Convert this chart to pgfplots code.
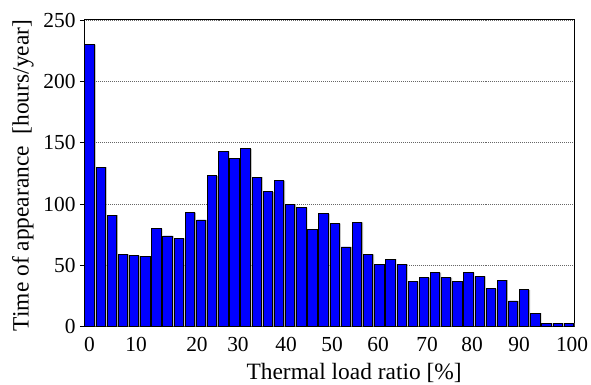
\documentclass[border=0pt]{standalone}
\usepackage{pgfplots}
\pgfplotsset{compat=1.18}
\usepackage{fontspec}
\setmainfont{Liberation Serif}
\pgfplotstableread{
x y
0 230
1 130
2 91
3 59
4 58
5 57
6 80
7 74
8 72
9 93
10 87
11 123
12 143
13 137
14 145
15 122
16 110
17 119
18 100
19 97
20 79
21 92
22 84
23 65
24 85
25 59
26 51
27 55
28 51
29 37
30 40
31 44
32 40
33 37
34 44
35 41
36 31
37 38
38 21
39 30
40 11
41 3
42 3
43 3
}\datatable
\begin{document}
\begin{tikzpicture}
\begin{axis}[
  scale only axis,
  width=490.3bp, height=306.7bp,
  xmin=-0.5, xmax=43.5,
  ymin=0, ymax=250,
  ytick={0,50,100,150,200,250},
  xtick={0,4.17,9.64,13.32,17.63,21.76,25.89,30.29,34.33,38.55,43.3},
  xticklabels={0,10,20,30,40,50,60,70,80,90,100},
  x tick style={draw=none},
  ytick style={black, line width=0.6pt},
  ytick pos=left,
  tick align=outside,
  major tick length=4bp,
  ymajorgrids,
  grid style={gray!80!black, line width=0.5pt, dash pattern=on 1pt off 1pt},
  axis line style={black, line width=1pt},
  /pgf/number format/assume math mode=true,
  tick label style={font=\fontsize{21.5}{23}\selectfont},
  label style={font=\fontsize{23.5}{25}\selectfont},
  xlabel={Thermal load ratio [\%]},
  ylabel={Time of appearance\ \ [hours/year]},
  xlabel style={at={(axis description cs:0.551,0)}, anchor=base, yshift=-53bp},
  ylabel style={at={(axis description cs:-0.1469,0.493)}, anchor=north, inner sep=0pt},
  yticklabel style={xshift=-1bp},
  xticklabel style={yshift=-3bp},
]
\addplot[ybar, bar shift=0.12, bar width=0.84, fill=gray!70, draw=none] table[x=x,y=y] {\datatable};
\addplot[ybar, bar shift=0, bar width=0.84, fill=blue, draw=black, line width=0.8pt] table[x=x,y=y] {\datatable};
\end{axis}
\pgfresetboundingbox
\path[use as bounding box] (-84bp,-58.3bp) rectangle (507bp,326.7bp);
\end{tikzpicture}
\end{document}
